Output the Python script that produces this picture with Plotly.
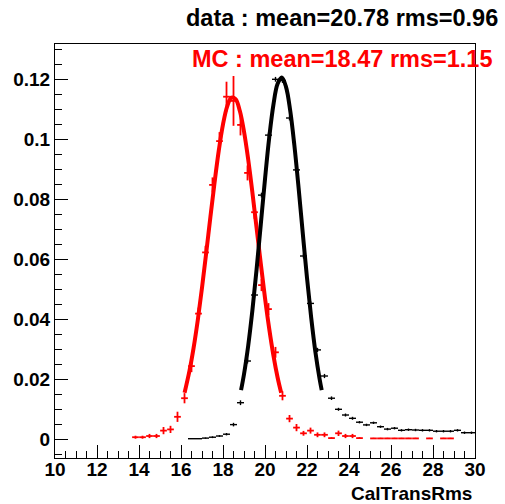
import plotly.graph_objects as go

# ---- data ----
mc_x = [13.833, 14.167, 14.5, 14.833, 15.167, 15.5, 15.833, 16.167, 16.5, 16.833,
        17.167, 17.5, 17.833, 18.167, 18.5, 18.833, 19.167, 19.5, 19.833, 20.167,
        20.5, 20.833, 21.167, 21.5, 21.833, 22.167, 22.5, 22.833, 23.167, 23.5,
        23.833, 24.167, 24.5, 25.167, 25.5, 25.833, 26.167, 26.5, 26.833, 27.167,
        27.833, 28.5, 28.833]
mc_y = [0.0006, 0.0006, 0.0010, 0.0010, 0.0028, 0.0032, 0.0074, 0.0136, 0.0243, 0.0418,
        0.0622, 0.0847, 0.0993, 0.1141, 0.1127, 0.1047, 0.0887, 0.0756, 0.0513, 0.0433,
        0.0289, 0.0144, 0.0068, 0.0038, 0.0019, 0.0028, 0.0014, 0.0014, 0.0003, 0.0019,
        0.0010, 0.0010, 0.0003, 0.0002, 0.0002, 0.0002, 0.0002, 0.0002, 0.0002, 0.0002,
        0.0002, 0.0002, 0.0002]
mc_err = [0.0005, 0.0005, 0.0007, 0.0007, 0.0012, 0.0012, 0.0017, 0.0017, 0.0020, 0.0020,
          0.0022, 0.0025, 0.0030, 0.0050, 0.0083, 0.0035, 0.0025, 0.0022, 0.0020, 0.0020,
          0.0018, 0.0015, 0.0012, 0.0012, 0.0008, 0.0010, 0.0008, 0.0008, 0.0003, 0.0009,
          0.0007, 0.0007, 0.0003, 0.0002, 0.0002, 0.0002, 0.0002, 0.0002, 0.0002, 0.0002,
          0.0002, 0.0002, 0.0002]

data_x = [16.5, 16.833, 17.167, 17.5, 17.833, 18.167, 18.5, 18.833, 19.167, 19.5,
          19.833, 20.167, 20.5, 20.833, 21.167, 21.5, 21.833, 22.167, 22.5, 22.833,
          23.167, 23.5, 23.833, 24.167, 24.5, 24.833, 25.167, 25.5, 25.833, 26.167,
          26.5, 26.833, 27.167, 27.5, 27.833, 28.167, 28.5, 28.833, 29.167, 29.5, 29.833]
data_y = [0.0001, 0.0001, 0.0003, 0.0006, 0.0010, 0.0016, 0.0048, 0.0121, 0.0260, 0.0480,
          0.0813, 0.1013, 0.1199, 0.1195, 0.1070, 0.0897, 0.0610, 0.0452, 0.0297, 0.0210,
          0.0136, 0.0099, 0.0080, 0.0069, 0.0056, 0.0047, 0.0054, 0.0041, 0.0033, 0.0036,
          0.0029, 0.0031, 0.0030, 0.0029, 0.0029, 0.0026, 0.0026, 0.0026, 0.0029, 0.0021, 0.0021]
data_err = [0.0001, 0.0001, 0.0002, 0.0003, 0.0003, 0.0004, 0.0006, 0.0008, 0.0008, 0.0008,
            0.0008, 0.0008, 0.0008, 0.0008, 0.0008, 0.0008, 0.0008, 0.0008, 0.0007, 0.0007,
            0.0006, 0.0005, 0.0005, 0.0005, 0.0004, 0.0004, 0.0004, 0.0004, 0.0004, 0.0004,
            0.0004, 0.0004, 0.0004, 0.0004, 0.0004, 0.0004, 0.0004, 0.0004, 0.0004, 0.0004, 0.0004]
half_bin_mc = 0.16
half_bin_data = 0.1667

# fitted curves (thick lines)
mcfit_x = [16.17, 16.4, 16.6, 16.8, 17.0, 17.2, 17.4, 17.6, 17.8, 18.0, 18.2, 18.4,
           18.6, 18.8, 19.0, 19.2, 19.4, 19.6, 19.8, 20.0, 20.2, 20.4, 20.6, 20.77]
mcfit_y = [0.0154, 0.0226, 0.0304, 0.0397, 0.0504, 0.0620, 0.0740, 0.0856, 0.0962, 0.1049,
           0.1109, 0.1138, 0.1133, 0.1094, 0.1025, 0.0932, 0.0822, 0.0703, 0.0584, 0.0470,
           0.0368, 0.0279, 0.0205, 0.0154]
datafit_x = [18.86, 19.0, 19.2, 19.4, 19.6, 19.8, 20.0, 20.2, 20.4, 20.6, 20.8, 21.0,
             21.2, 21.4, 21.6, 21.8, 22.0, 22.2, 22.4, 22.6, 22.70]
datafit_y = [0.0163, 0.0216, 0.0311, 0.0429, 0.0566, 0.0716, 0.0866, 0.1004, 0.1114, 0.1184,
             0.1205, 0.1174, 0.1095, 0.0978, 0.0837, 0.0685, 0.0537, 0.0404, 0.0290, 0.0200,
             0.0163]

x_ticks = [10, 12, 14, 16, 18, 20, 22, 24, 26, 28, 30]
y_ticks = [0, 0.02, 0.04, 0.06, 0.08, 0.1, 0.12]
y_tick_text = ["0", "0.02", "0.04", "0.06", "0.08", "0.1", "0.12"]

data_label = "data : mean=20.78 rms=0.96"
mc_label = "MC : mean=18.47 rms=1.15"
x_title = "CalTransRms"

FONT = "Liberation Sans, Arial, Helvetica, sans-serif"

fig = go.Figure()

fig.add_trace(go.Scatter(
    x=mc_x, y=mc_y, mode="markers",
    marker=dict(size=1, color="red", opacity=0),
    error_x=dict(type="constant", value=half_bin_mc, width=0, thickness=1.8, color="red"),
    error_y=dict(type="data", array=mc_err, width=0, thickness=1.8, color="red"),
    showlegend=False))
fig.add_trace(go.Scatter(
    x=mcfit_x, y=mcfit_y, mode="lines", line=dict(color="red", width=4, shape="spline"),
    showlegend=False))

fig.add_trace(go.Scatter(
    x=data_x, y=data_y, mode="markers",
    marker=dict(size=1, color="black", opacity=0),
    error_x=dict(type="constant", value=half_bin_data, width=0, thickness=1.4, color="black"),
    error_y=dict(type="data", array=data_err, width=0, thickness=1.4, color="black"),
    showlegend=False))
fig.add_trace(go.Scatter(
    x=datafit_x, y=datafit_y, mode="lines", line=dict(color="black", width=4, shape="spline"),
    showlegend=False))

fig.update_xaxes(
    range=[10, 30], showgrid=False, zeroline=False,
    showline=True, linecolor="black", linewidth=1, mirror=True,
    ticks="inside", ticklen=13, tickwidth=1, tickcolor="black",
    tickvals=x_ticks, ticktext=[str(v) for v in x_ticks],
    tickfont=dict(family=FONT, size=19, color="black", weight="bold"),
    ticklabelstandoff=-6,
    minor=dict(dtick=0.5, ticks="inside", ticklen=7, tickcolor="black", tickwidth=1),
)
fig.update_yaxes(
    range=[-0.00633, 0.13167], showgrid=False, zeroline=False,
    showline=True, linecolor="black", linewidth=1, mirror=True,
    ticks="inside", ticklen=13, tickwidth=1, tickcolor="black",
    tickvals=y_ticks, ticktext=y_tick_text,
    tickfont=dict(family=FONT, size=19, color="black", weight="bold"),
    minor=dict(dtick=0.005, tick0=0, ticks="inside", ticklen=7, tickcolor="black", tickwidth=1),
)

fig.add_annotation(text=data_label, xref="paper", yref="paper",
                   x=(500 - 55) / 420, y=(458 - 18) / 414, xanchor="right", yanchor="middle",
                   showarrow=False, font=dict(family=FONT, size=23.5, color="black", weight="bold"))
fig.add_annotation(text=mc_label, xref="paper", yref="paper",
                   x=(494 - 55) / 420, y=(458 - 58.5) / 414, xanchor="right", yanchor="middle",
                   showarrow=False, font=dict(family=FONT, size=23.5, color="red", weight="bold"))
fig.add_annotation(text=x_title, xref="paper", yref="paper",
                   x=(474 - 55) / 420, y=(458 - 493) / 414, xanchor="right", yanchor="middle",
                   showarrow=False, font=dict(family=FONT, size=19, color="black", weight="bold"))

fig.update_layout(
    width=505, height=504,
    margin=dict(l=55, r=30, t=44, b=46),
    paper_bgcolor="white", plot_bgcolor="white",
)

fig.write_html("out.html")
